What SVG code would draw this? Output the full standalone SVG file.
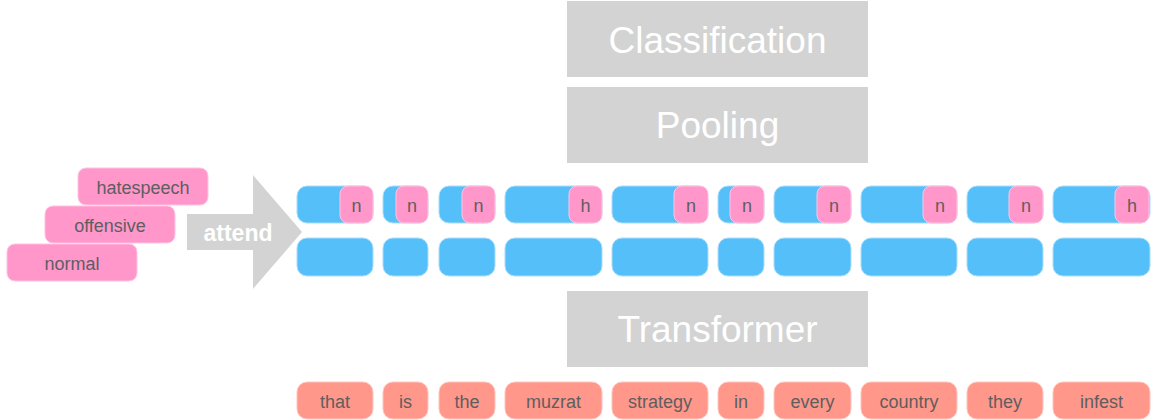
<svg xmlns="http://www.w3.org/2000/svg" width="1156" height="420" viewBox="0 0 1156 420">
<style>
.gray{fill:#d3d3d3}
.big{font-family:"Liberation Sans",Arial,sans-serif;font-size:37px;fill:#ffffff;text-anchor:middle}
.blue{fill:#55bffa;stroke:#a9ddfb;stroke-width:1}
.pk{fill:#ff97cb;stroke:#ffc4e2;stroke-width:1}
.sal{fill:#ff978b;stroke:#ffc6bf;stroke-width:1}
.t{font-family:"Liberation Sans",Arial,sans-serif;font-size:18px;fill:#5e5e5e;text-anchor:middle}
.a{font-family:"Liberation Sans",Arial,sans-serif;font-size:23px;font-weight:bold;fill:#ffffff;text-anchor:middle}
</style>
<rect width="1156" height="420" fill="#ffffff"/>
<g id="classification"><rect class="gray" x="567" y="1" width="301" height="76"/><text class="big" x="717.5" y="53">Classification</text></g>
<g id="pooling"><rect class="gray" x="567" y="87" width="301" height="76"/><text class="big" x="717.5" y="138">Pooling</text></g>
<g id="transformer"><rect class="gray" x="567" y="291" width="301" height="76"/><text class="big" x="717.5" y="342">Transformer</text></g>
<g id="labels">
<g id="hatespeech"><rect class="pk" x="78" y="168" width="130" height="37" rx="8"/><text class="t" x="143" y="194">hatespeech</text></g>
<g id="offensive"><rect class="pk" x="45" y="206" width="130" height="37" rx="8"/><text class="t" x="110" y="232">offensive</text></g>
<g id="normal"><rect class="pk" x="7" y="244" width="130" height="37" rx="8"/><text class="t" x="72" y="270">normal</text></g>
</g>
<g id="connectors">
<g id="attend"><polygon class="gray" points="187,214 253,214 253,175 302,232 253,289 253,250 187,250"/><text class="a" x="238" y="241">attend</text></g>
</g>
<g id="upper-row">
<g id="u1"><rect class="blue" x="297" y="186" width="76" height="37" rx="10"/><rect class="pk" x="340" y="186" width="33" height="37" rx="8"/><text class="t" x="356.5" y="212">n</text></g>
<g id="u2"><rect class="blue" x="383" y="186" width="45" height="37" rx="10"/><rect class="pk" x="396" y="186" width="32" height="37" rx="8"/><text class="t" x="412" y="212">n</text></g>
<g id="u3"><rect class="blue" x="439" y="186" width="56" height="37" rx="10"/><rect class="pk" x="462" y="186" width="33" height="37" rx="8"/><text class="t" x="478.5" y="212">n</text></g>
<g id="u4"><rect class="blue" x="505" y="186" width="97" height="37" rx="10"/><rect class="pk" x="569" y="186" width="33" height="37" rx="8"/><text class="t" x="585.5" y="212">h</text></g>
<g id="u5"><rect class="blue" x="612" y="186" width="96" height="37" rx="10"/><rect class="pk" x="674" y="186" width="34" height="37" rx="8"/><text class="t" x="691" y="212">n</text></g>
<g id="u6"><rect class="blue" x="718" y="186" width="46" height="37" rx="10"/><rect class="pk" x="730" y="186" width="34" height="37" rx="8"/><text class="t" x="747" y="212">n</text></g>
<g id="u7"><rect class="blue" x="774" y="186" width="77" height="37" rx="10"/><rect class="pk" x="817" y="186" width="34" height="37" rx="8"/><text class="t" x="834" y="212">n</text></g>
<g id="u8"><rect class="blue" x="861" y="186" width="96" height="37" rx="10"/><rect class="pk" x="923" y="186" width="34" height="37" rx="8"/><text class="t" x="940" y="212">n</text></g>
<g id="u9"><rect class="blue" x="967" y="186" width="76" height="37" rx="10"/><rect class="pk" x="1009" y="186" width="34" height="37" rx="8"/><text class="t" x="1026" y="212">n</text></g>
<g id="u10"><rect class="blue" x="1053" y="186" width="97" height="37" rx="10"/><rect class="pk" x="1115" y="186" width="34" height="37" rx="8"/><text class="t" x="1132" y="212">h</text></g>
</g>
<g id="lower-row">
<rect id="l1" class="blue" x="297" y="238" width="76" height="38" rx="10"/>
<rect id="l2" class="blue" x="383" y="238" width="45" height="38" rx="10"/>
<rect id="l3" class="blue" x="439" y="238" width="56" height="38" rx="10"/>
<rect id="l4" class="blue" x="505" y="238" width="97" height="38" rx="10"/>
<rect id="l5" class="blue" x="612" y="238" width="96" height="38" rx="10"/>
<rect id="l6" class="blue" x="718" y="238" width="46" height="38" rx="10"/>
<rect id="l7" class="blue" x="774" y="238" width="77" height="38" rx="10"/>
<rect id="l8" class="blue" x="861" y="238" width="96" height="38" rx="10"/>
<rect id="l9" class="blue" x="967" y="238" width="76" height="38" rx="10"/>
<rect id="l10" class="blue" x="1053" y="238" width="97" height="38" rx="10"/>
</g>
<g id="words">
<g id="w1"><rect class="sal" x="297" y="382" width="76" height="37" rx="10"/><text class="t" x="335" y="408">that</text></g>
<g id="w2"><rect class="sal" x="383" y="382" width="45" height="37" rx="10"/><text class="t" x="405.5" y="408">is</text></g>
<g id="w3"><rect class="sal" x="439" y="382" width="56" height="37" rx="10"/><text class="t" x="467" y="408">the</text></g>
<g id="w4"><rect class="sal" x="505" y="382" width="97" height="37" rx="10"/><text class="t" x="553.5" y="408">muzrat</text></g>
<g id="w5"><rect class="sal" x="612" y="382" width="96" height="37" rx="10"/><text class="t" x="660" y="408">strategy</text></g>
<g id="w6"><rect class="sal" x="718" y="382" width="46" height="37" rx="10"/><text class="t" x="741" y="408">in</text></g>
<g id="w7"><rect class="sal" x="774" y="382" width="77" height="37" rx="10"/><text class="t" x="812.5" y="408">every</text></g>
<g id="w8"><rect class="sal" x="861" y="382" width="96" height="37" rx="10"/><text class="t" x="909" y="408">country</text></g>
<g id="w9"><rect class="sal" x="967" y="382" width="76" height="37" rx="10"/><text class="t" x="1005" y="408">they</text></g>
<g id="w10"><rect class="sal" x="1053" y="382" width="97" height="37" rx="10"/><text class="t" x="1101.5" y="408">infest</text></g>
</g>
</svg>
